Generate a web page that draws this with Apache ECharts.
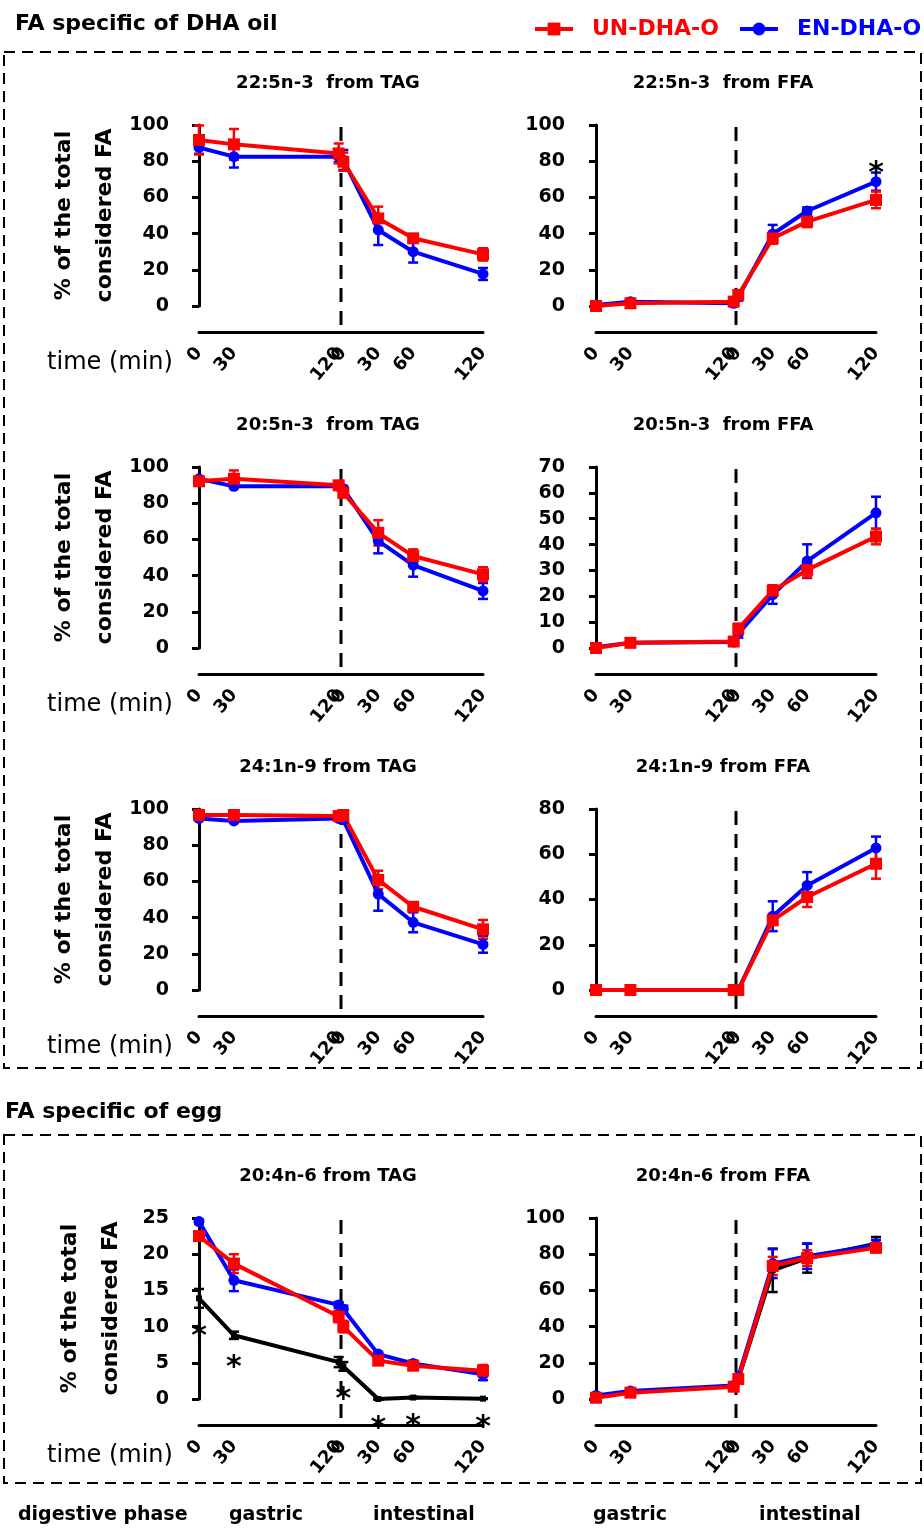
<!DOCTYPE html>
<html>
<head>
<meta charset="utf-8">
<script src="https://cdn.jsdelivr.net/npm/echarts@6/dist/echarts.min.js"></script>
<style>
  html, body { margin: 0; padding: 0; background: #fff; }
  #chart { width: 924px; height: 1529px; }
</style>
</head>
<body>
<div id="chart"></div>
<script>
// sampling times (min) inside each digestive phase
const timeLabels = ['0', '30', '120', '0', '30', '60', '120'];
const timeValues = [0, 30, 120, 0, 30, 60, 120];
const phaseOfPoint = ['gastric', 'gastric', 'gastric', 'intestinal', 'intestinal', 'intestinal', 'intestinal'];
const intestinalStart = 124;   // intestinal t=0 on the shared time axis
const phaseBoundary = 122;     // dashed line between phases
const axisEnd = 244;

const panelTitles = [
  '22:5n-3  from TAG', '22:5n-3  from FFA',
  '20:5n-3  from TAG', '20:5n-3  from FFA',
  '24:1n-9 from TAG', '24:1n-9 from FFA',
  '20:4n-6 from TAG', '20:4n-6 from FFA'
];
const yMaxes = [100, 100, 100, 70, 100, 80, 25, 100];
const yIntervals = [20, 20, 20, 10, 20, 20, 5, 20];

// % of the total considered FA, mean and error per time point
const un22TAG = [91.7, 89.3, 84.3, 79.7, 48.4, 37.4, 28.5];
const un22TAGErr = [8, 8.5, 5.5, 5, 6.5, 2, 3.4];
const en22TAG = [87.6, 82.5, 82.5, 80.7, 42, 30, 17.7];
const en22TAGErr = [3.5, 6, 3, 5.5, 8.3, 6, 3.3];

const un22FFA = [0, 1.5, 2.4, 6.1, 37.4, 46.6, 58.6];
const un22FFAErr = [0.5, 0.8, 0.8, 2, 3, 3, 4.6];
const en22FFA = [0.5, 2.4, 1.5, 5, 39.8, 52.5, 68.7];
const en22FFAErr = [0.5, 0.8, 0.8, 2, 5, 2, 5];

const un20TAG = [92.1, 93.5, 89.9, 85.7, 63.6, 50.8, 40.7];
const un20TAGErr = [1.5, 4.6, 1.5, 2, 7, 3.7, 3.9];
const en20TAG = [93.5, 89.3, 89.3, 88, 59.2, 45.8, 31.5];
const en20TAGErr = [1, 1, 1.5, 1.5, 6.9, 6.4, 4.4];

const un20FFA = [0, 2, 2.5, 7.4, 22.2, 30.2, 43.1];
const un20FFAErr = [0.3, 0.5, 0.5, 2, 2, 2.9, 3];
const en20FFA = [0.3, 2, 2.3, 5.5, 20.6, 33.6, 52.3];
const en20FFAErr = [0.3, 0.5, 0.5, 1.5, 3.5, 6.5, 6.2];

const un24TAG = [96.7, 96.7, 96.1, 96.7, 60.8, 46, 33.5];
const un24TAGErr = [2.7, 2.5, 2, 2, 5.1, 1.5, 5.2];
const en24TAG = [94.8, 93.4, 94.8, 94, 53, 37.4, 25.2];
const en24TAGErr = [1, 1, 1, 1.5, 9.2, 5.5, 4.6];

const un24FFA = [0, 0, 0, 0, 30.8, 41.1, 55.8];
const un24FFAErr = [0.2, 0.2, 0.2, 0.2, 2, 4.4, 6.6];
const en24FFA = [0, 0, 0, 0, 32.6, 46.2, 62.8];
const en24FFAErr = [0.2, 0.2, 0.2, 0.2, 6.6, 5.9, 5];

const un204TAG = [22.5, 18.7, 11.4, 10, 5.3, 4.6, 3.9];
const un204TAGErr = [0.5, 1.3, 0.8, 0.8, 0.4, 0.4, 0.8];
const en204TAG = [24.5, 16.4, 13.0, 12.4, 6.2, 4.9, 3.4];
const en204TAGErr = [0.3, 1.5, 0.4, 0.5, 0.3, 0.4, 0.8];
const egg204TAG = [13.9, 8.8, 5.1, 4.5, 0, 0.2, 0.05];
const egg204TAGErr = [1.3, 0.5, 0.7, 0.6, 0.1, 0.1, 0.05];

const un204FFA = [0.7, 3.5, 6.8, 11, 73.5, 77.9, 83.5];
const un204FFAErr = [0.5, 0.5, 0.5, 1, 5, 4.3, 2];
const en204FFA = [2, 4.4, 7.4, 12.3, 74.8, 78.9, 84.9];
const en204FFAErr = [0.5, 0.5, 0.5, 1, 8, 7, 3];
const egg204FFA = [1, 4, 7, 11, 71.1, 77.8, 85.8];
const egg204FFAErr = [0.5, 0.5, 0.5, 1, 12, 8, 3.7];

// significance stars (point indices)
const starsEN22FFA = [6];
const starsEgg204TAG = [0, 1, 3, 4, 5, 6];

const RED = '#ff0000';
const BLUE = '#0000ff';
const BLACK = '#000000';
const FONT = 'DejaVu Sans';

const panels = [
  { un: [un22TAG, un22TAGErr], en: [en22TAG, en22TAGErr] },
  { un: [un22FFA, un22FFAErr], en: [en22FFA, en22FFAErr], enStars: starsEN22FFA },
  { un: [un20TAG, un20TAGErr], en: [en20TAG, en20TAGErr] },
  { un: [un20FFA, un20FFAErr], en: [en20FFA, en20FFAErr] },
  { un: [un24TAG, un24TAGErr], en: [en24TAG, en24TAGErr] },
  { un: [un24FFA, un24FFAErr], en: [en24FFA, en24FFAErr] },
  { un: [un204TAG, un204TAGErr], en: [en204TAG, en204TAGErr], egg: [egg204TAG, egg204TAGErr], eggStars: starsEgg204TAG },
  { un: [un204FFA, un204FFAErr], en: [en204FFA, en204FFAErr], egg: [egg204FFA, egg204FFAErr] }
];

// layout
const colLeft = [199, 596];
const colWidth = [284, 280];
const colYOffset = [26, 27];
const rowTop = [125, 467, 809, 1218];
const plotHeight = 181;
const xAxisDrop = 26;

const tickPos = timeValues.map((t, i) => phaseOfPoint[i] === 'gastric' ? t : intestinalStart + t);

// error bars, plus a '*' placed past the bar end for flagged points
function errorSeries(idx, name, values, errs, color, stars, starSide) {
  return {
    type: 'custom',
    name: name + ' err',
    xAxisIndex: idx,
    yAxisIndex: idx,
    data: values.map((v, i) => [tickPos[i], v, errs[i], stars && stars.indexOf(i) >= 0 ? 1 : 0]),
    clip: false,
    silent: true,
    renderItem: function (params, api) {
      let x = api.value(0), y = api.value(1), e = api.value(2);
      let hi = api.coord([x, y + e]);
      let lo = api.coord([x, y - e]);
      let w = 5;
      let st = { stroke: color, lineWidth: 2.5 };
      let children = [
        { type: 'line', shape: { x1: hi[0], y1: hi[1], x2: lo[0], y2: lo[1] }, style: st },
        { type: 'line', shape: { x1: hi[0] - w, y1: hi[1], x2: hi[0] + w, y2: hi[1] }, style: st },
        { type: 'line', shape: { x1: lo[0] - w, y1: lo[1], x2: lo[0] + w, y2: lo[1] }, style: st }
      ];
      if (api.value(3)) {
        children.push({
          type: 'text',
          x: lo[0],
          y: starSide === 'top' ? hi[1] + 2 : lo[1] + 29,
          style: { text: '*', fill: '#000', font: 'bold 30px "DejaVu Sans"', align: 'center', verticalAlign: 'middle' }
        });
      }
      return { type: 'group', children: children };
    }
  };
}

function lineSeries(idx, name, values, color, symbol, size) {
  return {
    type: 'line',
    name: name,
    xAxisIndex: idx,
    yAxisIndex: idx,
    data: values.map((v, i) => [tickPos[i], v]),
    symbol: symbol,
    symbolSize: size,
    clip: false,
    itemStyle: { color: color },
    lineStyle: { color: color, width: 4 },
    emphasis: { disabled: true }
  };
}

function boundarySeries(idx) {
  return {
    type: 'custom',
    name: 'phase boundary',
    xAxisIndex: idx,
    yAxisIndex: idx,
    data: [[phaseBoundary, yMaxes[idx]]],
    clip: false,
    silent: true,
    z: 1,
    renderItem: function (params, api) {
      let top = api.coord([api.value(0), api.value(1)]);
      let base = api.coord([api.value(0), 0]);
      return {
        type: 'line',
        shape: { x1: top[0], y1: top[1] + 2, x2: top[0], y2: base[1] + xAxisDrop },
        style: { stroke: '#000', lineWidth: 3, lineDash: [14, 9] }
      };
    }
  };
}

const grids = [], xAxes = [], yAxes = [], series = [], graphics = [];

panels.forEach((p, idx) => {
  let col = idx % 2, row = Math.floor(idx / 2);
  grids.push({ left: colLeft[col], top: rowTop[row], width: colWidth[col], height: plotHeight });
  xAxes.push({
    gridIndex: idx, type: 'value', min: 0, max: axisEnd, offset: xAxisDrop,
    axisLine: { show: true, onZero: false, lineStyle: { color: '#000', width: 3 } },
    axisTick: { show: false },
    splitLine: { show: false },
    axisLabel: {
      customValues: tickPos,
      formatter: v => timeLabels[tickPos.indexOf(v)],
      rotate: 50, margin: 18, color: '#000',
      fontFamily: FONT, fontWeight: 'bold', fontSize: 18
    }
  });
  yAxes.push({
    gridIndex: idx, type: 'value', min: 0, max: yMaxes[idx], interval: yIntervals[idx],
    offset: colYOffset[col],
    axisLine: { show: true, lineStyle: { color: '#000', width: 3 } },
    axisTick: { show: true, length: 7, lineStyle: { color: '#000', width: 3 } },
    splitLine: { show: false },
    axisLabel: { color: '#000', fontFamily: FONT, fontWeight: 'bold', fontSize: 19, margin: 4 },
    name: col === 0 ? '% of the total\nconsidered FA' : '',
    nameLocation: 'middle', nameRotate: 90, nameGap: 41,
    nameTextStyle: { color: '#000', fontFamily: FONT, fontWeight: 'bold', fontSize: 22, lineHeight: 41 }
  });

  series.push(boundarySeries(idx));
  if (p.egg) {
    series.push(errorSeries(idx, 'egg', p.egg[0], p.egg[1], BLACK, p.eggStars, 'bottom'));
    series.push(lineSeries(idx, 'egg', p.egg[0], BLACK, 'rect', 6));
  }
  series.push(errorSeries(idx, 'EN-DHA-O', p.en[0], p.en[1], BLUE, p.enStars, 'top'));
  series.push(lineSeries(idx, 'EN-DHA-O', p.en[0], BLUE, 'circle', 11));
  series.push(errorSeries(idx, 'UN-DHA-O', p.un[0], p.un[1], RED));
  series.push(lineSeries(idx, 'UN-DHA-O', p.un[0], RED, 'rect', 12));

  // panel title
  graphics.push({
    type: 'text', x: colLeft[col] + (col === 0 ? 129 : 127), y: rowTop[row] - 42,
    style: { text: panelTitles[idx], fill: '#000', font: 'bold 18px "DejaVu Sans"', align: 'center', verticalAlign: 'middle' }
  });
  if (col === 0) {
    graphics.push({
      type: 'text', x: 110, y: rowTop[row] + plotHeight + xAxisDrop + 31,
      style: { text: 'time (min)', fill: '#000', font: '24px "DejaVu Sans"', align: 'center', verticalAlign: 'middle' }
    });
  }
});

// section boxes and labels
graphics.push(
  { type: 'rect', shape: { x: 4, y: 52, width: 917, height: 1016 }, style: { fill: 'none', stroke: '#000', lineWidth: 2, lineDash: [11, 7] } },
  { type: 'rect', shape: { x: 4, y: 1135, width: 917, height: 348 }, style: { fill: 'none', stroke: '#000', lineWidth: 2, lineDash: [11, 7] } },
  { type: 'text', x: 15, y: 24, style: { text: 'FA specific of DHA oil', fill: '#000', font: 'bold 22px "DejaVu Sans"', verticalAlign: 'middle' } },
  { type: 'text', x: 5, y: 1112, style: { text: 'FA specific of egg', fill: '#000', font: 'bold 22px "DejaVu Sans"', verticalAlign: 'middle' } },
  { type: 'text', x: 18, y: 1515, style: { text: 'digestive phase', fill: '#000', font: 'bold 19px "DejaVu Sans"', verticalAlign: 'middle' } },
  { type: 'text', x: 266, y: 1515, style: { text: 'gastric', fill: '#000', font: 'bold 19px "DejaVu Sans"', align: 'center', verticalAlign: 'middle' } },
  { type: 'text', x: 424, y: 1515, style: { text: 'intestinal', fill: '#000', font: 'bold 19px "DejaVu Sans"', align: 'center', verticalAlign: 'middle' } },
  { type: 'text', x: 630, y: 1515, style: { text: 'gastric', fill: '#000', font: 'bold 19px "DejaVu Sans"', align: 'center', verticalAlign: 'middle' } },
  { type: 'text', x: 810, y: 1515, style: { text: 'intestinal', fill: '#000', font: 'bold 19px "DejaVu Sans"', align: 'center', verticalAlign: 'middle' } }
);

const legendText = { fontFamily: FONT, fontWeight: 'bold', fontSize: 22, padding: [0, 0, 0, 14] };

const chart = echarts.init(document.getElementById('chart'), null, { renderer: 'canvas' });
chart.setOption({
  backgroundColor: '#fff',
  animation: false,
  legend: [
    {
      left: 528, top: 13, itemWidth: 38, itemHeight: 16, selectedMode: false,
      lineStyle: { width: 4 },
      data: [{ name: 'UN-DHA-O', textStyle: { color: RED } }],
      textStyle: legendText
    },
    {
      left: 733, top: 13, itemWidth: 38, itemHeight: 16, selectedMode: false,
      lineStyle: { width: 4 },
      data: [{ name: 'EN-DHA-O', textStyle: { color: BLUE } }],
      textStyle: legendText
    }
  ],
  grid: grids,
  xAxis: xAxes,
  yAxis: yAxes,
  series: series,
  graphic: graphics
});
</script>
</body>
</html>
